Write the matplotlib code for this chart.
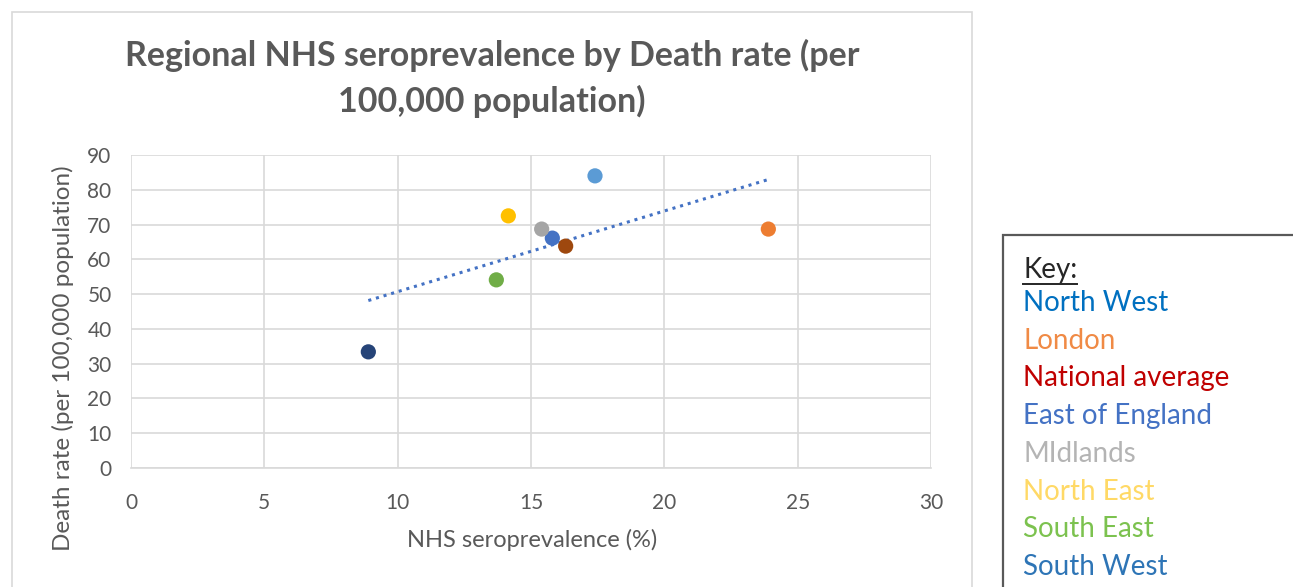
import matplotlib
matplotlib.use("Agg")
import matplotlib.pyplot as plt
import numpy as np
from matplotlib.patches import Rectangle
from matplotlib.lines import Line2D

plt.rcParams['font.family'] = ['Lato', 'DejaVu Sans']

# Data
regions = ["North West", "London", "National average", "East of England",
           "MIdlands", "North East", "South East", "South West"]
seroprevalence = [17.4, 23.9, 16.3, 15.8, 15.4, 14.15, 13.7, 8.9]
death_rate = [84.0, 68.7, 63.8, 66.1, 68.7, 72.5, 54.1, 33.4]
marker_colors = ["#5B9BD5", "#ED7D31", "#9E480E", "#4472C4",
                 "#A5A5A5", "#FFC000", "#70AD47", "#264478"]
key_colors = ["#0070C0", "#F08A45", "#C00000", "#4472C4",
              "#B4B4B4", "#FFD966", "#7CC24F", "#2E75B6"]
x_ticks = [0, 5, 10, 15, 20, 25, 30]
y_ticks = [0, 10, 20, 30, 40, 50, 60, 70, 80, 90]

W, H = 1293, 587
fig = plt.figure(figsize=(W / 100, H / 100), dpi=100)

def fx(px):
    return px / W

def fy(py):
    return 1 - py / H

# chart frame
fig.patches.append(Rectangle((fx(12), fy(600)), fx(972) - fx(12), fy(12) - fy(600),
                             transform=fig.transFigure, fill=False,
                             edgecolor="#D9D9D9", linewidth=1.2))
# key frame
fig.patches.append(Rectangle((fx(1003), fy(620)), fx(1320) - fx(1003), fy(235) - fy(620),
                             transform=fig.transFigure, fill=False,
                             edgecolor="#595959", linewidth=1.6))

ax = fig.add_axes([fx(131), fy(468), fx(931) - fx(131), fy(155) - fy(468)])
ax.set_xlim(0, 30)
ax.set_ylim(0, 90)
ax.set_xticks(x_ticks)
ax.set_yticks(y_ticks)
ax.grid(True, color="#D9D9D9", linewidth=1.2)
ax.set_axisbelow(True)
for s in ["top", "right", "left"]:
    ax.spines[s].set_visible(False)
ax.spines["bottom"].set_color("#D9D9D9")
ax.spines["bottom"].set_linewidth(1.2)
ax.tick_params(axis="both", length=0, labelsize=15, colors="#595959")
ax.tick_params(axis="x", pad=18)
ax.tick_params(axis="y", pad=14)

# trendline
xs = np.array(seroprevalence)
ys = np.array(death_rate)
m, b = np.polyfit(xs, ys, 1)
xl = np.array([xs.min(), xs.max()])
ax.plot(xl, m * xl + b, color="#4472C4", linestyle=(0, (1, 1.6)), linewidth=2.2, zorder=2)

ax.scatter(seroprevalence, death_rate, c=marker_colors, s=120, zorder=3, linewidths=0)

fig.text(fx(492), fy(55), "Regional NHS seroprevalence by Death rate (per",
         ha="center", va="center", fontsize=24.5, fontweight="bold", color="#595959")
fig.text(fx(492), fy(101), "100,000 population)",
         ha="center", va="center", fontsize=24.5, fontweight="bold", color="#595959")
fig.text(fx(532), fy(540), "NHS seroprevalence (%)", ha="center", va="center",
         fontsize=17, color="#595959")
fig.text(fx(63), fy(358), "Death rate (per 100,000 population)", ha="center", va="center",
         rotation=90, fontsize=17.5, color="#595959")

# Key
fig.text(fx(1023), fy(270), "Key:", ha="left", va="center", fontsize=20, color="#262626")
fig.lines.append(Line2D([fx(1023), fx(1077)], [fy(284), fy(284)], transform=fig.transFigure,
                        color="#262626", linewidth=1.4))
y0, dy = 303, 37.7
for i, (name, col) in enumerate(zip(regions, key_colors)):
    fig.text(fx(1023), fy(y0 + i * dy), name, ha="left", va="center", fontsize=20, color=col)

fig.savefig("out.png", dpi=100)
